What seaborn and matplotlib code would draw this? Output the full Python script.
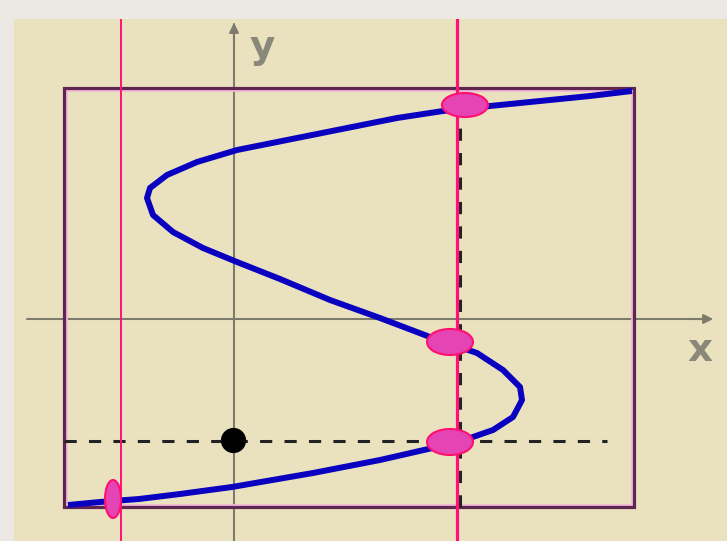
import matplotlib
matplotlib.use("Agg")
import matplotlib.pyplot as plt
from matplotlib.patches import Ellipse, Rectangle
import seaborn as sns
import pandas as pd

# ---- data (units: 1 = 100 px, origin at axes crossing) ----
curve_x = [3.98, 3.56, 3.06, 2.56, 2.09, 1.63, 1.13, 0.63, 0.03, -0.37, -0.67, -0.84,
           -0.87, -0.81, -0.61, -0.31, 0.03, 0.46, 0.96, 1.46, 1.96, 2.43, 2.69, 2.86,
           2.88, 2.79, 2.59, 2.36, 2.03, 1.46, 0.79, -0.02, -0.54, -0.95, -1.34, -1.66]
curve_y = [2.28, 2.23, 2.18, 2.13, 2.08, 2.01, 1.91, 1.81, 1.69, 1.57, 1.44, 1.31,
           1.21, 1.04, 0.87, 0.71, 0.57, 0.40, 0.19, 0.01, -0.18, -0.34, -0.51, -0.68,
           -0.81, -0.98, -1.11, -1.19, -1.28, -1.41, -1.54, -1.68, -1.75, -1.80, -1.83, -1.86]

box_x = [-1.70, 4.00]
box_y = [-1.88, 2.31]

level_y = -1.22          # horizontal dashed line
level_x = 2.26           # vertical dashed line
line_left_x = -1.13      # thin pink vertical line
line_right_x = 2.23      # thick pink vertical line

dot_x = [-0.01]
dot_y = [-1.21]

ell_x = [2.31, 2.16, 2.16, -1.21]
ell_y = [2.14, -0.23, -1.23, -1.80]
ell_w = [0.46, 0.46, 0.46, 0.16]
ell_h = [0.24, 0.26, 0.26, 0.38]

sns.set_style("white")

fig = plt.figure(figsize=(7.27, 5.41), dpi=100)
fig.patch.set_facecolor("#ECE8E4")
ax = fig.add_axes([14 / 727, 0, 713 / 727, 522 / 541])
ax.set_facecolor("#EAE2BF")
ax.set_xlim(-2.20, 4.93)
ax.set_ylim(-2.22, 3.00)
for s in ax.spines.values():
    s.set_visible(False)
ax.set_xticks([])
ax.set_yticks([])

axis_col = "#7D7B6C"
# axes lines
ax.plot([-2.07, 4.70], [0, 0], color=axis_col, lw=1.5, zorder=1)
ax.plot([0, 0], [-2.22, 2.95], color=axis_col, lw=1.5, zorder=1)
ax.annotate("", xy=(4.82, 0), xytext=(4.55, 0),
            arrowprops=dict(arrowstyle="-|>", color=axis_col, lw=1.5, mutation_scale=14))
ax.annotate("", xy=(0, 2.99), xytext=(0, 2.75),
            arrowprops=dict(arrowstyle="-|>", color=axis_col, lw=1.5, mutation_scale=14))
ax.text(0.28, 2.72, "y", fontsize=28, fontweight="bold", color="#8A887A",
        ha="center", va="center")
ax.text(4.66, -0.31, "x", fontsize=28, fontweight="bold", color="#8A887A",
        ha="center", va="center")

# rectangle (with pink glow inside)
ax.add_patch(Rectangle((box_x[0] + 0.02, box_y[0] + 0.02), box_x[1] - box_x[0] - 0.04,
                       box_y[1] - box_y[0] - 0.04, fill=False, ec="#F2B8D6", lw=2, zorder=2))
ax.add_patch(Rectangle((box_x[0], box_y[0]), box_x[1] - box_x[0], box_y[1] - box_y[0],
                       fill=False, ec="#5E2650", lw=2.3, zorder=2))

# dashed lines
ax.plot([box_x[0], 3.73], [level_y, level_y], color="#222222", lw=2.2,
        dashes=(4, 4), zorder=3)
ax.plot([level_x, level_x], [box_y[0], 2.09], color="#222222", lw=2.2,
        dashes=(4, 4), zorder=3)

# curve
df = pd.DataFrame({"x": curve_x, "y": curve_y})
sns.lineplot(data=df, x="x", y="y", sort=False, estimator=None, ax=ax,
             color="#0A00C0", lw=4.3, zorder=4, solid_joinstyle="round",
             solid_capstyle="butt")

# dot
sns.scatterplot(x=dot_x, y=dot_y, ax=ax, color="black", s=330, zorder=5,
                edgecolor="black", linewidth=0)

# pink vertical lines
ax.plot([line_left_x, line_left_x], [-2.22, 3.01], color="#FF1177", lw=1.4, zorder=6)
ax.plot([line_right_x, line_right_x], [-2.22, 3.14], color="#FF1177", lw=2.3, zorder=6)

# ellipses
for ex, ey, ew, eh in zip(ell_x, ell_y, ell_w, ell_h):
    ax.add_patch(Ellipse((ex, ey), ew, eh, fc="#E444B4", ec="#FF1070", lw=1.5, zorder=7))

ax.set_xlabel("")
ax.set_ylabel("")
if ax.get_legend():
    ax.get_legend().remove()

fig.savefig("out.png", dpi=100, facecolor=fig.get_facecolor())
